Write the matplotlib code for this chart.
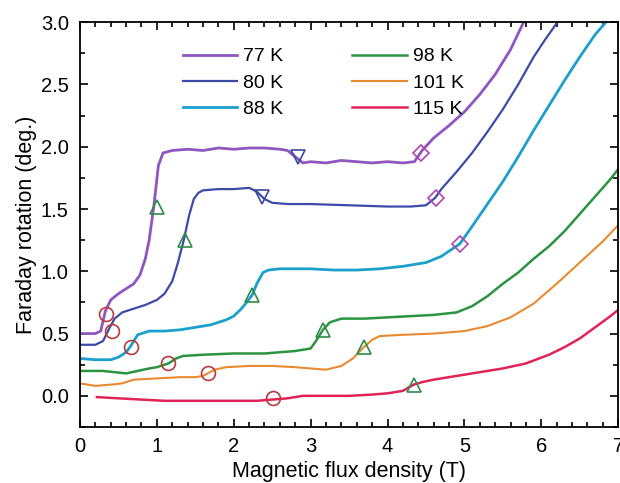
import numpy as np
import matplotlib
matplotlib.use("Agg")
import matplotlib.pyplot as plt
from matplotlib.ticker import MultipleLocator

plt.rcParams['font.family'] = ['Liberation Sans', 'DejaVu Sans']

# ---- data (field in T, rotation in deg.) ----
labels = ["77 K", "80 K", "88 K", "98 K", "101 K", "115 K"]
colors = ["#8f55c0", "#3d4aa8", "#1ba0cc", "#2a9440", "#e88a30", "#e0245a"]
widths = [2.0, 1.6, 2.0, 1.8, 1.5, 1.8]

x77 = [0, 0.1, 0.2, 0.27, 0.33, 0.4, 0.5, 0.6, 0.7, 0.78, 0.85, 0.9, 0.96, 1.02, 1.08, 1.2, 1.4,
       1.6, 1.8, 2.0, 2.2, 2.4, 2.6, 2.7, 2.8, 2.9, 3.0, 3.2, 3.4, 3.6, 3.8, 4.0, 4.2, 4.35, 4.45,
       4.6, 4.8, 5.0, 5.2, 5.4, 5.6, 5.77]
y77 = [0.50, 0.50, 0.50, 0.52, 0.68, 0.77, 0.82, 0.86, 0.90, 0.97, 1.10, 1.25, 1.52, 1.85, 1.95,
       1.97, 1.98, 1.97, 1.99, 1.98, 1.99, 1.99, 1.98, 1.97, 1.92, 1.87, 1.88, 1.87, 1.89, 1.88,
       1.87, 1.88, 1.87, 1.88, 1.97, 2.07, 2.17, 2.28, 2.42, 2.58, 2.78, 3.0]

x80 = [0, 0.1, 0.2, 0.3, 0.38, 0.45, 0.55, 0.7, 0.85, 1.0, 1.1, 1.2, 1.27, 1.35, 1.42, 1.48,
       1.54, 1.6, 1.8, 2.0, 2.2, 2.3, 2.4, 2.5, 2.7, 3.0, 3.5, 4.0, 4.3, 4.5, 4.62, 4.7, 4.9, 5.1,
       5.3, 5.5, 5.7, 5.9, 6.05, 6.21]
y80 = [0.41, 0.41, 0.41, 0.44, 0.54, 0.62, 0.67, 0.70, 0.73, 0.77, 0.82, 0.92, 1.06, 1.25, 1.45,
       1.58, 1.63, 1.65, 1.66, 1.66, 1.67, 1.64, 1.58, 1.55, 1.54, 1.54, 1.53, 1.52, 1.52, 1.53,
       1.59, 1.66, 1.80, 1.95, 2.12, 2.30, 2.50, 2.72, 2.86, 3.0]

x88 = [0, 0.2, 0.4, 0.5, 0.6, 0.66, 0.75, 0.9, 1.1, 1.3, 1.5, 1.7, 1.9, 2.0, 2.1, 2.18, 2.24,
       2.3, 2.38, 2.45, 2.6, 2.8, 3.0, 3.3, 3.6, 3.9, 4.2, 4.5, 4.7, 4.94, 5.1, 5.3, 5.5, 5.7, 5.9,
       6.1, 6.3, 6.5, 6.7, 6.84]
y88 = [0.30, 0.29, 0.29, 0.31, 0.35, 0.40, 0.49, 0.52, 0.52, 0.53, 0.55, 0.57, 0.61, 0.64, 0.70,
       0.76, 0.81, 0.90, 0.99, 1.01, 1.02, 1.02, 1.02, 1.01, 1.01, 1.02, 1.04, 1.07, 1.12, 1.22,
       1.36, 1.54, 1.72, 1.92, 2.13, 2.33, 2.53, 2.72, 2.90, 3.0]

x98 = [0, 0.3, 0.6, 0.9, 1.0, 1.15, 1.25, 1.34, 1.6, 2.0, 2.4, 2.8, 3.0, 3.08, 3.16, 3.25, 3.4,
       3.7, 4.0, 4.3, 4.6, 4.9, 5.1, 5.3, 5.5, 5.7, 5.9, 6.1, 6.3, 6.5, 6.7, 6.9, 7.0]
y98 = [0.20, 0.20, 0.18, 0.22, 0.23, 0.26, 0.30, 0.32, 0.33, 0.34, 0.34, 0.36, 0.38, 0.45, 0.53,
       0.59, 0.62, 0.62, 0.63, 0.64, 0.65, 0.67, 0.72, 0.80, 0.90, 0.99, 1.10, 1.20, 1.32, 1.46,
       1.60, 1.74, 1.82]

x101 = [0, 0.2, 0.4, 0.55, 0.7, 1.0, 1.3, 1.5, 1.6, 1.66, 1.75, 1.9, 2.2, 2.5, 2.8, 3.0, 3.2,
        3.4, 3.55, 3.69, 3.8, 3.9, 4.2, 4.6, 5.0, 5.3, 5.6, 5.9, 6.2, 6.5, 6.8, 7.0]
y101 = [0.10, 0.08, 0.09, 0.10, 0.13, 0.14, 0.15, 0.15, 0.16, 0.18, 0.21, 0.23, 0.24, 0.24, 0.23,
        0.22, 0.21, 0.24, 0.30, 0.39, 0.45, 0.48, 0.49, 0.50, 0.52, 0.56, 0.63, 0.74, 0.90, 1.07,
        1.24, 1.37]

x115 = [0.22, 0.5, 0.8, 1.1, 1.4, 1.7, 2.0, 2.3, 2.5, 2.7, 2.9, 3.2, 3.5, 3.8, 4.0, 4.2, 4.34,
        4.45, 4.6, 4.9, 5.2, 5.5, 5.8, 6.1, 6.3, 6.5, 6.7, 6.9, 7.0]
y115 = [-0.01, -0.02, -0.03, -0.04, -0.04, -0.04, -0.04, -0.04, -0.03, -0.02, 0.0, 0.0, 0.0,
        0.01, 0.02, 0.04, 0.09, 0.11, 0.13, 0.16, 0.19, 0.22, 0.26, 0.33, 0.39, 0.46, 0.55, 0.64,
        0.69]

# marker positions
circ_x = [0.34, 0.41, 0.66, 1.15, 1.66, 2.51]
circ_y = [0.66, 0.52, 0.39, 0.26, 0.18, -0.02]
tri_up_x = [1.0, 1.37, 2.24, 3.16, 3.69, 4.34]
tri_up_y = [1.52, 1.25, 0.81, 0.53, 0.39, 0.09]
tri_dn_x = [2.83, 2.37]
tri_dn_y = [1.92, 1.60]
dia_x = [4.44, 4.63, 4.94]
dia_y = [1.95, 1.59, 1.22]

xs = [x77, x80, x88, x98, x101, x115]
ys = [y77, y80, y88, y98, y101, y115]

fig = plt.figure(figsize=(6.2, 4.83), dpi=100)
ax = fig.add_axes([0.129, 0.116, 0.868, 0.838])

for x, y, c, w, lab in zip(xs, ys, colors, widths, labels):
    ax.plot(x, y, color=c, lw=w, label=lab)

mk = dict(ls='none', mfc='none', markersize=10, mew=1.2)
ax.plot(circ_x, circ_y, marker='o', mec='#b83a3a', **mk)
ax.plot(tri_up_x, tri_up_y, marker='^', mec='#2e8b45', **mk)
ax.plot(tri_dn_x, tri_dn_y, marker='v', mec='#3a4aa0', **mk)
ax.plot(dia_x, dia_y, marker='D', mec='#b044b0', ls='none', mfc='none', markersize=8, mew=1.2)

ax.set_xlim(0, 7)
ax.set_ylim(-0.25, 3.0)
ax.xaxis.set_major_locator(MultipleLocator(1))
ax.xaxis.set_minor_locator(MultipleLocator(0.2))
ax.yaxis.set_major_locator(MultipleLocator(0.5))
ax.yaxis.set_minor_locator(MultipleLocator(0.25))
ax.tick_params(which='both', direction='in', top=True, right=True, labelsize=14.5, width=1.2)
ax.tick_params(which='major', length=6)
ax.tick_params(which='minor', length=3.5)
ax.tick_params(axis='x', pad=7)
ax.tick_params(axis='y', pad=8)
for s in ax.spines.values():
    s.set_linewidth(1.3)

ax.set_xlabel("Magnetic flux density (T)", fontsize=15.5, labelpad=4)
ax.set_ylabel("Faraday rotation (deg.)", fontsize=15.5, labelpad=3)

ax.legend(ncol=2, loc='upper left', bbox_to_anchor=(0.1915, 0.937), frameon=False,
          borderpad=0, borderaxespad=0, fontsize=14, handlelength=2.8,
          columnspacing=3.55, labelspacing=0.45, handletextpad=0.3)

fig.savefig("out.png", dpi=100)
